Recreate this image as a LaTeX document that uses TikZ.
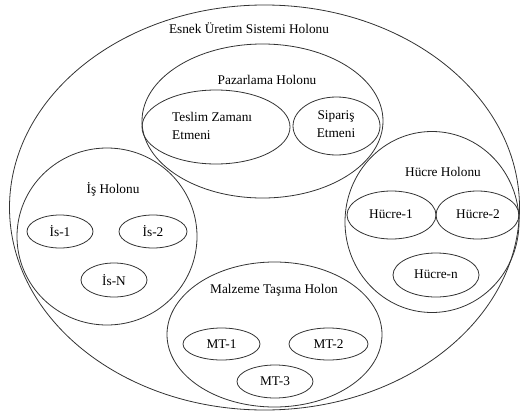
\documentclass[tikz,border=0pt]{standalone}
\usepackage{fontspec}
\setmainfont{Liberation Serif}
\usetikzlibrary{shapes.geometric}
\begin{document}
\begin{tikzpicture}[x=1pt,y=-1pt,
  ell/.style={ellipse, draw=black!80, line width=0.8pt, inner sep=0pt},
  lbl/.style={inner sep=0pt, font=\fontsize{13.3}{18}\selectfont, text=black}]
\useasboundingbox (0,0) rectangle (521,412);
% outer
\node[ell, minimum width=510pt, minimum height=405pt] (outer) at (264.5,207.5) {};
\node[lbl] (outerT) at (249,28) {Esnek Üretim Sistemi Holonu};
% Pazarlama
\node[ell, minimum width=241pt, minimum height=154pt] (paz) at (262.5,121) {};
\node[lbl] (pazT) at (267,80) {Pazarlama Holonu};
\node[ell, minimum width=148pt, minimum height=74pt] (tes) at (216,127) {};
\node[lbl, align=left, anchor=west] (tesT) at (172,126) {Teslim Zamanı\\Etmeni};
\node[ell, minimum width=87pt, minimum height=58pt] (sip) at (336.5,126) {};
\node[lbl, align=center] (sipT) at (336,124) {Sipariş\\Etmeni};
% Is
\node[ell, minimum width=180pt, minimum height=177pt] (is) at (107,236.5) {};
\node[lbl] (isT) at (113,189) {İş Holonu};
\node[ell, minimum width=66pt, minimum height=33pt] (is1) at (60,231.5) {};
\node[lbl] (is1T) at (60,231.5) {İs-1};
\node[ell, minimum width=68pt, minimum height=33pt] (is2) at (153,231.5) {};
\node[lbl] (is2T) at (153,231.5) {İs-2};
\node[ell, minimum width=66pt, minimum height=34pt] (isn) at (114,280) {};
\node[lbl] (isnT) at (114,280) {İs-N};
% Hucre
\node[ell, minimum width=174pt, minimum height=181pt] (huc) at (432,222) {};
\node[lbl] (hucT) at (443,172) {Hücre Holonu};
\node[ell, minimum width=89pt, minimum height=48pt] (h1) at (391.5,215) {};
\node[lbl] (h1T) at (391,214) {Hücre-1};
\node[ell, minimum width=83pt, minimum height=48pt] (h2) at (477.5,215) {};
\node[lbl] (h2T) at (478,214) {Hücre-2};
\node[ell, minimum width=86pt, minimum height=44pt] (hn) at (436,275) {};
\node[lbl] (hnT) at (436,274) {Hücre-n};
% Malzeme
\node[ell, minimum width=215pt, minimum height=145pt] (mal) at (274.5,334.5) {};
\node[lbl] (malT) at (274,290) {Malzeme Taşıma Holon};
\node[ell, minimum width=77pt, minimum height=32pt] (mt1) at (221.5,344) {};
\node[lbl] (mt1T) at (221.5,344) {MT-1};
\node[ell, minimum width=79pt, minimum height=32pt] (mt2) at (328.5,344) {};
\node[lbl] (mt2T) at (328.5,344) {MT-2};
\node[ell, minimum width=76pt, minimum height=33pt] (mt3) at (275,381.5) {};
\node[lbl] (mt3T) at (275,381.5) {MT-3};
\end{tikzpicture}
\end{document}
